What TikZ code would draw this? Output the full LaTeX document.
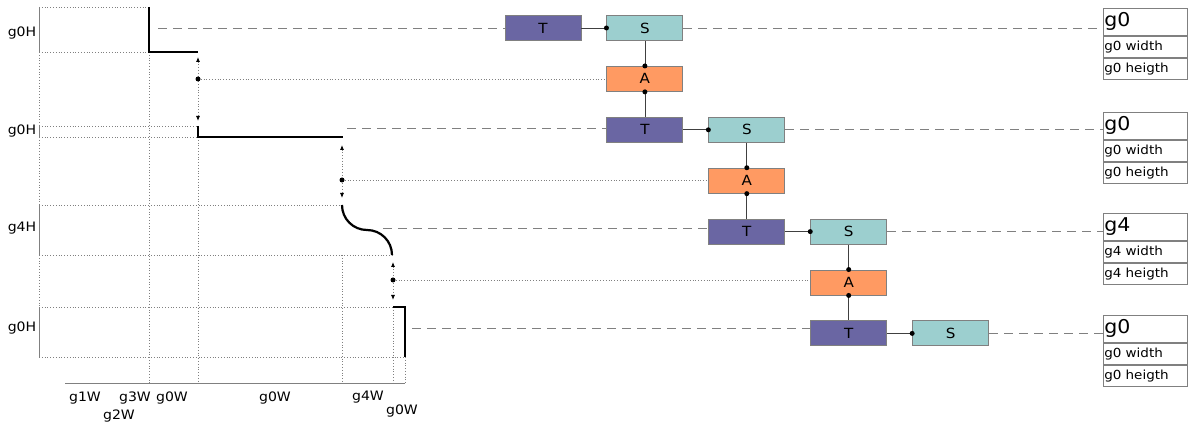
\documentclass[tikz,border=0pt]{standalone}
\usepackage{fontspec}
\setmainfont{DejaVu Sans}[FakeStretch=1.08]
\usepackage{xcolor}
\usepackage{tikz}
\usetikzlibrary{arrows,arrows.meta,positioning,calc}
\definecolor{tcol}{HTML}{6A66A3}
\definecolor{scol}{HTML}{9CCFCF}
\definecolor{acol}{HTML}{FF9A62}
\definecolor{edgecol}{HTML}{808080}
\tikzset{
  box/.style={draw=edgecol,line width=0.9pt,minimum width=76pt,minimum height=25pt,inner sep=0pt,font=\fontsize{14}{16}\selectfont},
  tbox/.style={box,fill=tcol},
  sbox/.style={box,fill=scol},
  abox/.style={box,fill=acol},
  tabhead/.style={draw=edgecol,line width=0.7pt,text width=82pt,align=left,inner sep=1pt,minimum height=27pt,font=\fontsize{19}{21}\selectfont},
  tabrow/.style={draw=edgecol,line width=0.7pt,text width=82pt,align=left,inner sep=1pt,minimum height=21.5pt,font=\fontsize{12.5}{14}\selectfont},
  guide/.style={gray,dotted,line width=0.8pt},
  gaparrow/.style={guide,{Latex[black,length=5pt,width=4pt]}-{Latex[black,length=5pt,width=4pt]}},
  link/.style={gray,dash pattern=on 9pt off 6pt,line width=0.8pt},
  profile/.style={black,line width=2.2pt},
  lbl/.style={font=\fontsize{13}{15}\selectfont},
  dot/.style={circle,fill=black,inner sep=0pt,minimum size=5pt}
}
\begin{document}
\begin{tikzpicture}[x=1pt,y=-1pt,node distance=25pt and 25pt]
	\useasboundingbox (0,0) rectangle (1189,427);
	% left side: bands and profile
	\draw[edgecol,line width=0.8pt] (39,7)--(39,52) (39,126)--(39,137) (39,205)--(39,255) (39,307)--(39,357);
	\draw[guide] (39,52)--(39,126) (39,137)--(39,205) (39,255)--(39,307);
	\draw[guide] (39,7)--(149,7) (39,52)--(149,52);
	\draw[guide] (39,126)--(198,126) (39,137)--(198,137);
	\draw[guide] (39,205)--(342,205) (39,255)--(392,255);
	\draw[guide] (39,307)--(393,307) (39,357)--(405,357);
	\draw[guide] (149,52)--(149,383) (198,137)--(198,383) (342,255)--(342,383) (393,307)--(393,383) (405,357)--(405,383);
	\draw[edgecol,line width=0.8pt] (65,383)--(405,383);
	\draw[profile] (149,7)--(149,52)--(198,52);
	\draw[profile] (198,126)--(198,137)--(343,137);
	\draw[profile] (342,205) to[out=-90,in=180] (367,230) to[out=0,in=90] (392,255);
	\draw[profile] (393,307)--(405,307)--(405,357);
	% height and width labels
	\node[lbl] (h1) at (22,33) {g0H};
	\node[lbl] (h2) at (22,131) {g0H};
	\node[lbl] (h3) at (22,228) {g4H};
	\node[lbl] (h4) at (22,328) {g0H};
	\node[lbl] (w1) at (85,398) {g1W};
	\node[lbl] (w2) at (119,416) {g2W};
	\node[lbl] (w3) at (135,398) {g3W};
	\node[lbl] (w4) at (172,398) {g0W};
	\node[lbl] (w5) at (275,398) {g0W};
	\node[lbl] (w6) at (368,397) {g4W};
	\node[lbl] (w7) at (402,411) {g0W};
	% gaps between bands
	\draw[gaparrow] (198,57)--(198,121);
	\draw[gaparrow] (342,145)--(342,198);
	\draw[gaparrow] (393,262)--(393,300);
	\node[dot] (g1) at (198,79) {};
	\node[dot] (g2) at (342,180) {};
	\node[dot] (g3) at (393,280) {};
	\coordinate (r1) at (158,28);
	\coordinate (r2) at (347,128);
	\coordinate (r3) at (383,228);
	\coordinate (r4) at (412,328);
	% chain of boxes
	\node[tbox] (T1) at (543,28) {T};
	\node[sbox,right=of T1] (S1) {S};
	\node[abox,below=of S1] (A1) {A};
	\node[tbox,below=of A1] (T2) {T};
	\node[sbox,right=of T2] (S2) {S};
	\node[abox,below=of S2] (A2) {A};
	\node[tbox,below=of A2] (T3) {T};
	\node[sbox,right=of T3] (S3) {S};
	\node[abox,below=of S3] (A3) {A};
	\node[tbox,below=of A3] (T4) {T};
	\node[sbox,right=of T4] (S4) {S};
	% tables
	\node[tabhead,anchor=north west] (G1) at (1103,8) {g0};
	\node[tabrow,below=0pt of G1] (W1) {g0 width};
	\node[tabrow,below=0pt of W1] (H1) {g0 heigth};
	\node[tabhead,anchor=north west] (G2) at (1103,112) {g0};
	\node[tabrow,below=0pt of G2] (W2) {g0 width};
	\node[tabrow,below=0pt of W2] (H2) {g0 heigth};
	\node[tabhead,anchor=north west] (G3) at (1103,213) {g4};
	\node[tabrow,below=0pt of G3] (W3) {g4 width};
	\node[tabrow,below=0pt of W3] (H3) {g4 heigth};
	\node[tabhead,anchor=north west] (G4) at (1103,315) {g0};
	\node[tabrow,below=0pt of G4] (W4) {g0 width};
	\node[tabrow,below=0pt of W4] (H4) {g0 heigth};
	% dashed rows
	\foreach \i in {1,2,3,4}{
		\draw[link] (r\i) -- (r\i -| T\i.west);
		\draw[link] (S\i.east) -- (S\i.east -| G\i.west);
	}
	% dotted gap links
	\foreach \i in {1,2,3}{
		\draw[guide] (g\i) -- (g\i -| A\i.west);
	}
	% box connectors
	\foreach \i in {1,2,3,4}{
		\draw[darkgray,line width=0.8pt] (T\i.east) -- (S\i.west);
		\node[dot] at (S\i.west) {};
	}
	\foreach \i/\j in {1/2,2/3,3/4}{
		\draw[darkgray,line width=0.8pt] (S\i.south) -- (A\i.north);
		\draw[darkgray,line width=0.8pt] (A\i.south) -- (T\j.north);
		\node[dot] at (A\i.north) {};
		\node[dot] at (A\i.south) {};
	}
\end{tikzpicture}
\end{document}
